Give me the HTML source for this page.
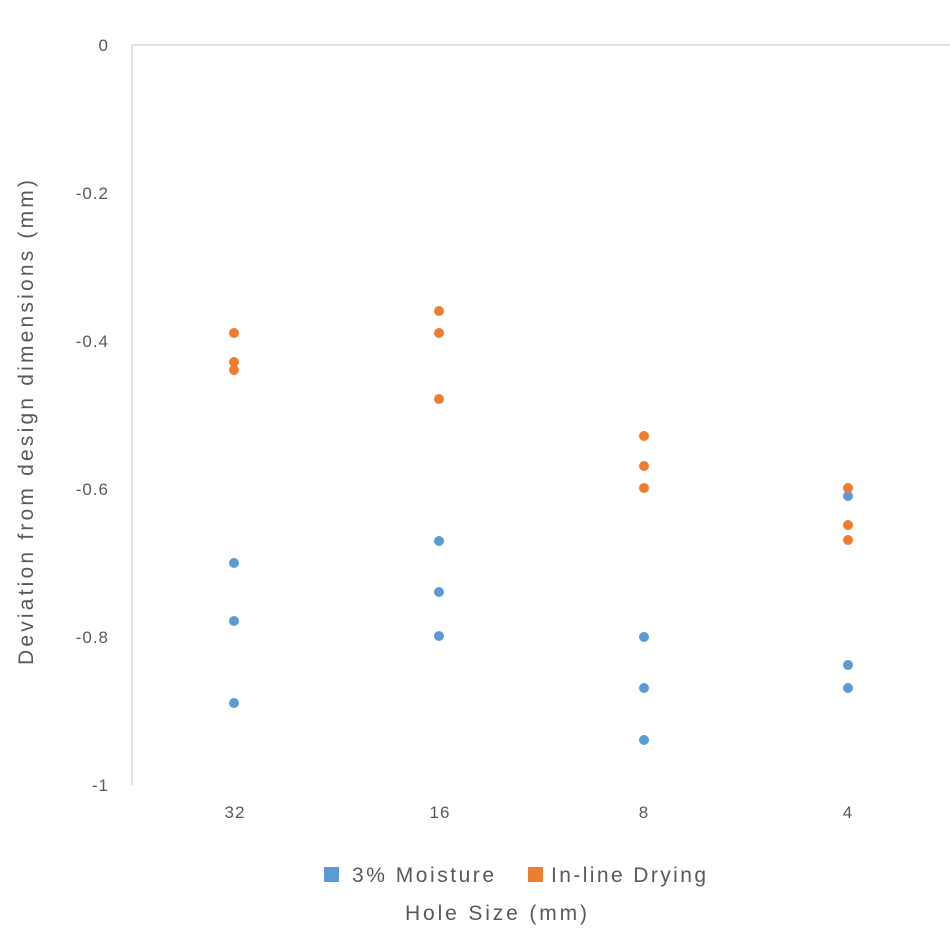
<!DOCTYPE html>
<html><head><style>body{margin:0;background:#fff}</style></head><body>
<svg width="950" height="945" xmlns="http://www.w3.org/2000/svg" font-family="Liberation Sans, sans-serif" fill="#595959">
<line x1="132" y1="45" x2="950" y2="45" stroke="#d9d9d9" stroke-width="1.5"/>
<line x1="132" y1="45" x2="132" y2="785" stroke="#d9d9d9" stroke-width="1.5"/>
<g font-size="17" text-anchor="end" letter-spacing="1">
<text x="109" y="51">0</text>
<text x="109" y="199">-0.2</text>
<text x="109" y="347">-0.4</text>
<text x="109" y="495">-0.6</text>
<text x="109" y="643">-0.8</text>
<text x="109" y="791">-1</text>
</g>
<g font-size="17" text-anchor="middle" letter-spacing="1">
<text x="235" y="818">32</text>
<text x="440" y="818">16</text>
<text x="644" y="818">8</text>
<text x="848" y="818">4</text>
</g>
<text transform="translate(33,665) rotate(-90)" font-size="21" textLength="485" lengthAdjust="spacing">Deviation from design dimensions (mm)</text>
<rect x="324" y="867" width="15" height="15" fill="#5b9bd5"/>
<text x="352" y="882" font-size="21" textLength="142" lengthAdjust="spacing">3% Moisture</text>
<rect x="528" y="867" width="15" height="15" fill="#ed7d31"/>
<text x="551" y="882" font-size="21" textLength="155" lengthAdjust="spacing">In-line Drying</text>
<text x="405" y="920" font-size="21" textLength="182" lengthAdjust="spacing">Hole Size (mm)</text>
<g fill="#5b9bd5">
<circle cx="234" cy="563" r="5"/><circle cx="234" cy="621" r="5"/><circle cx="234" cy="703" r="5"/>
<circle cx="439" cy="541" r="5"/><circle cx="439" cy="592" r="5"/><circle cx="439" cy="636" r="5"/>
<circle cx="644" cy="637" r="5"/><circle cx="644" cy="688" r="5"/><circle cx="644" cy="740" r="5"/>
<circle cx="848" cy="496" r="5"/><circle cx="848" cy="665" r="5"/><circle cx="848" cy="688" r="5"/>
</g>
<g fill="#ed7d31">
<circle cx="234" cy="333" r="5"/><circle cx="234" cy="362" r="5"/><circle cx="234" cy="370" r="5"/>
<circle cx="439" cy="311" r="5"/><circle cx="439" cy="333" r="5"/><circle cx="439" cy="399" r="5"/>
<circle cx="644" cy="436" r="5"/><circle cx="644" cy="466" r="5"/><circle cx="644" cy="488" r="5"/>
<circle cx="848" cy="488" r="5"/><circle cx="848" cy="525" r="5"/><circle cx="848" cy="540" r="5"/>
</g>
</svg>
</body></html>
